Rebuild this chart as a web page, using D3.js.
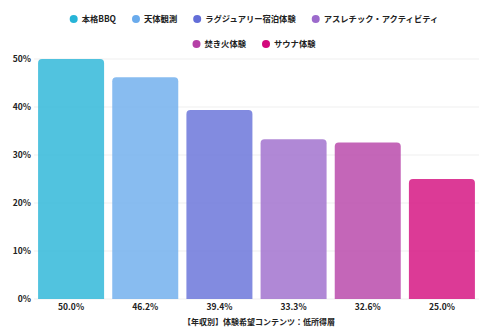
<!DOCTYPE html>
<html><head><meta charset="utf-8">
<script src="https://cdn.jsdelivr.net/npm/d3@7"></script>
<style>
html,body{margin:0;padding:0;background:#fff;}
text{font-family:"Noto Sans CJK JP","Noto Sans",sans-serif;font-weight:700;fill:#222;}
</style></head>
<body><svg id="c" width="487" height="334"></svg>
<script>
const categories = ["本格BBQ","天体観測","ラグジュアリー宿泊体験","アスレチック・アクティビティ","焚き火体験","サウナ体験"];
const values = [50.0, 46.2, 39.4, 33.3, 32.6, 25.0];
const colors = ["#26b4d7","#6aabec","#636ed8","#9c6acc","#b540a6","#d3097c"];
const yTicks = [0,10,20,30,40,50];
const xTitle = "【年収別】体験希望コンテンツ：低所得層";

const svg = d3.select("#c");
const W = 487, H = 334;
const m = {left:34, right:8, top:59, bottom:35};
const x = d3.scaleBand().domain(categories).range([m.left, W-m.right]).paddingInner(0.11).paddingOuter(0.055);
const y = d3.scaleLinear().domain([0,50]).range([H-m.bottom, m.top]);

// grid
svg.append("g").selectAll("line").data(yTicks).join("line")
  .attr("x1", m.left).attr("x2", W-m.right)
  .attr("y1", d=>y(d)).attr("y2", d=>y(d))
  .attr("stroke","#efefef").attr("stroke-width",1);

// y axis labels
const ya = svg.append("g").attr("transform",`translate(${m.left-3},0)`)
  .call(d3.axisLeft(y).tickValues(yTicks).tickSize(0).tickPadding(0).tickFormat(d=>d+"%"));
ya.select(".domain").remove();
ya.selectAll("text").attr("font-size","8.5px").style("font-family",'"Noto Sans CJK JP",sans-serif').style("font-weight","700").attr("fill","#222");

// bars with rounded top
const r = 4;
function barPath(d,i){
  const x0 = x(categories[i]), w = x.bandwidth(), y0 = y(d), y1 = y(0);
  return `M${x0},${y1}V${y0+r}Q${x0},${y0} ${x0+r},${y0}H${x0+w-r}Q${x0+w},${y0} ${x0+w},${y0+r}V${y1}Z`;
}
svg.append("g").selectAll("path").data(values).join("path")
  .attr("d", barPath)
  .attr("fill",(d,i)=>colors[i]).attr("fill-opacity",0.8);

// value labels under bars
svg.append("g").selectAll("text").data(values).join("text")
  .attr("x",(d,i)=>x(categories[i])+x.bandwidth()/2)
  .attr("y", y(0)+11)
  .attr("text-anchor","middle").attr("font-size","8.5px")
  .text(d=>d.toFixed(1)+"%");

// x title
svg.append("text").attr("x",259).attr("y",325)
  .attr("text-anchor","middle").attr("font-size","8px").text(xTitle);

// legend
const rows = [[0,1,2,3],[4,5]];
const rowY = [19, 44];
const fs = 8.3;
const gap = 16;
rows.forEach((row,ri)=>{
  const g = svg.append("g");
  let cx = 0;
  row.forEach((ci,k)=>{
    const it = g.append("g").attr("transform",`translate(${cx},0)`);
    it.append("circle").attr("cx",4).attr("cy",0).attr("r",4).attr("fill",colors[ci]);
    const t = it.append("text").attr("x",12).attr("y",3).attr("font-size",fs+"px").text(categories[ci]);
    const tw = t.node().getComputedTextLength();
    cx += 12 + tw + gap;
  });
  const total = cx - gap;
  g.attr("transform",`translate(${254 - total/2},${rowY[ri]})`);
});
</script></body></html>
